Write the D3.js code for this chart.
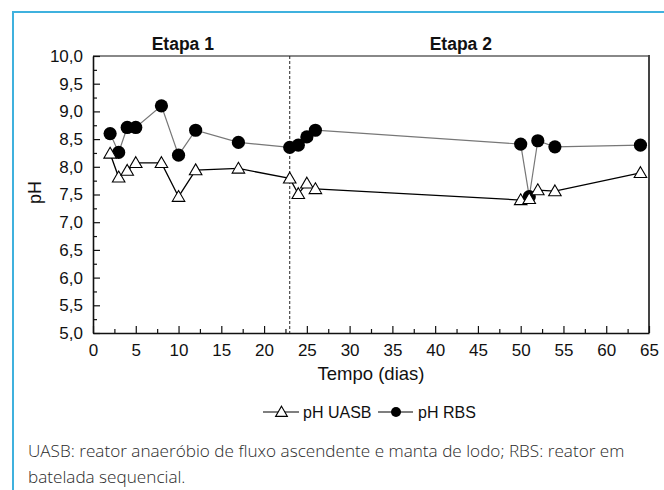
<!DOCTYPE html>
<html>
<head>
<meta charset="utf-8">
<script src="https://cdn.jsdelivr.net/npm/d3@7"></script>
<style>
  body { margin: 0; background: #fff; }
  svg { display: block; }
  .ax text { font-family: "Liberation Sans", Arial, sans-serif; font-size: 17px; fill: #111; }
</style>
</head>
<body>
<svg id="chart" width="664" height="490"></svg>
<script>
// dias de operação
const days = [2, 3, 4, 5, 8, 10, 12, 17, 23, 24, 25, 26, 50, 51, 52, 54, 64];
const phUASB = [8.24, 7.81, 7.93, 8.07, 8.07, 7.46, 7.94, 7.97, 7.79, 7.51, 7.70, 7.60, 7.40, 7.42, 7.58, 7.56, 7.89];
const phRBS = [8.60, 8.26, 8.71, 8.71, 9.10, 8.21, 8.66, 8.44, 8.35, 8.39, 8.54, 8.66, 8.41, 7.46, 8.47, 8.36, 8.39];

const xTicks = [0, 5, 10, 15, 20, 25, 30, 35, 40, 45, 50, 55, 60, 65];
const yTicks = [5.0, 5.5, 6.0, 6.5, 7.0, 7.5, 8.0, 8.5, 9.0, 9.5, 10.0];
const etapaLabels = ['Etapa 1', 'Etapa 2'];
const etapaX = [10.5, 43];
const etapaSplit = 23;
const seriesNames = ['pH UASB', 'pH RBS'];
const caption = [
    'UASB: reator anaeróbio de fluxo ascendente e manta de lodo; RBS: reator em',
    'batelada sequencial.'
];

const svg = d3.select('#chart');
const pLeft = 93, pRight = 649, pTop = 56, pBottom = 333;
const font = '"Liberation Sans", Arial, sans-serif';

const x = d3.scaleLinear().domain([0, 65]).range([pLeft, pRight]);
const y = d3.scaleLinear().domain([5, 10]).range([pBottom, pTop]);
const fmt = d3.format('.1f');

// moldura azul
svg.append('path')
    .attr('d', `M13,490V12H664`)
    .attr('fill', 'none')
    .attr('stroke', '#3fb1de')
    .attr('stroke-width', 2);

// bordas de cima e da direita
svg.append('line').attr('x1', pLeft).attr('x2', pRight).attr('y1', pTop).attr('y2', pTop)
    .attr('stroke', '#888').attr('stroke-width', 2);
svg.append('line').attr('x1', pRight).attr('x2', pRight).attr('y1', pTop - 1).attr('y2', pBottom)
    .attr('stroke', '#444').attr('stroke-width', 2);

// eixos (ticks para dentro)
svg.append('g').attr('class', 'ax').attr('transform', `translate(0,${pBottom})`)
    .call(d3.axisBottom(x).tickValues(xTicks).tickSizeInner(-7).tickSizeOuter(0).tickPadding(11));
svg.append('g').attr('transform', `translate(0,${pBottom})`)
    .call(d3.axisBottom(x).tickValues(d3.range(2.5, 65, 5)).tickSizeInner(-4).tickSizeOuter(0).tickFormat(''))
    .call(g => g.select('.domain').remove());

svg.append('g').attr('class', 'ax').attr('transform', `translate(${pLeft},0)`)
    .call(d3.axisLeft(y).tickValues(yTicks).tickSizeInner(-7).tickSizeOuter(0).tickPadding(10)
        .tickFormat(d => fmt(d).replace('.', ',')));
svg.append('g').attr('transform', `translate(${pLeft},0)`)
    .call(d3.axisLeft(y).tickValues(d3.range(5.25, 10, 0.5)).tickSizeInner(-4).tickSizeOuter(0).tickFormat(''))
    .call(g => g.select('.domain').remove());

svg.selectAll('.domain').attr('stroke', '#111').attr('stroke-width', 1.6);
svg.selectAll('.tick line').attr('stroke', '#111').attr('stroke-width', 1.2);

// divisão das etapas
svg.append('line')
    .attr('x1', x(etapaSplit)).attr('x2', x(etapaSplit))
    .attr('y1', pTop).attr('y2', pBottom)
    .attr('stroke', '#222').attr('stroke-width', 1)
    .attr('stroke-dasharray', '3,2');

svg.selectAll('.etapa').data(etapaLabels).join('text')
    .attr('class', 'etapa')
    .attr('x', (d, i) => x(etapaX[i])).attr('y', 50)
    .attr('text-anchor', 'middle')
    .attr('font-family', font).attr('font-weight', 'bold').attr('font-size', 17.5)
    .attr('fill', '#111')
    .text(d => d);

// títulos dos eixos
svg.append('text')
    .attr('x', (pLeft + pRight) / 2).attr('y', 380)
    .attr('text-anchor', 'middle')
    .attr('font-family', font).attr('font-size', 18.5).attr('fill', '#111')
    .text('Tempo (dias)');
svg.append('text')
    .attr('transform', `translate(41,${(pTop + pBottom) / 2 - 2}) rotate(-90)`)
    .attr('text-anchor', 'middle')
    .attr('font-family', font).attr('font-size', 18).attr('fill', '#111')
    .text('pH');

// séries
const rbs = days.map((d, i) => [d, phRBS[i]]);
const uasb = days.map((d, i) => [d, phUASB[i]]);
const line = d3.line().x(d => x(d[0])).y(d => y(d[1]));

svg.append('path').datum(rbs).attr('d', line)
    .attr('fill', 'none').attr('stroke', '#777').attr('stroke-width', 1.2);
svg.selectAll('.rbs').data(rbs).join('circle')
    .attr('class', 'rbs')
    .attr('cx', d => x(d[0])).attr('cy', d => y(d[1])).attr('r', 6.6)
    .attr('fill', '#000');

const tri = d3.symbol().type(d3.symbolTriangle).size(68);
svg.append('path').datum(uasb).attr('d', line)
    .attr('fill', 'none').attr('stroke', '#000').attr('stroke-width', 1.3);
svg.selectAll('.uasb').data(uasb).join('path')
    .attr('class', 'uasb')
    .attr('transform', d => `translate(${x(d[0])},${y(d[1]) + 1})`)
    .attr('d', tri)
    .attr('fill', '#fff').attr('stroke', '#000').attr('stroke-width', 1.1);

// legenda
const leg = svg.append('g').attr('font-family', font).attr('font-size', 16).attr('fill', '#111');
leg.append('line').attr('x1', 263).attr('x2', 299).attr('y1', 412).attr('y2', 412)
    .attr('stroke', '#000').attr('stroke-width', 1.2);
leg.append('path').attr('transform', 'translate(281.5,413)').attr('d', d3.symbol().type(d3.symbolTriangle).size(60))
    .attr('fill', '#fff').attr('stroke', '#000').attr('stroke-width', 1.1);
leg.append('text').attr('x', 303).attr('y', 418).text(seriesNames[0]);
leg.append('line').attr('x1', 378).attr('x2', 413).attr('y1', 412).attr('y2', 412)
    .attr('stroke', '#000').attr('stroke-width', 1.2);
leg.append('circle').attr('cx', 396).attr('cy', 412).attr('r', 5).attr('fill', '#000');
leg.append('text').attr('x', 418).attr('y', 418).text(seriesNames[1]);

// legenda da figura
const cap = svg.selectAll('.cap').data(caption).join('text')
    .attr('class', 'cap')
    .attr('x', 28).attr('y', (d, i) => 457 + i * 26)
    .attr('font-family', '"Open Sans", Lato, sans-serif').attr('font-weight', 300)
    .attr('font-size', 16).attr('fill', '#2a2a2a')
    .text(d => d);
const w = cap.node().getComputedTextLength();
cap.attr('font-size', 16 * 597 / w);
</script>
</body>
</html>
